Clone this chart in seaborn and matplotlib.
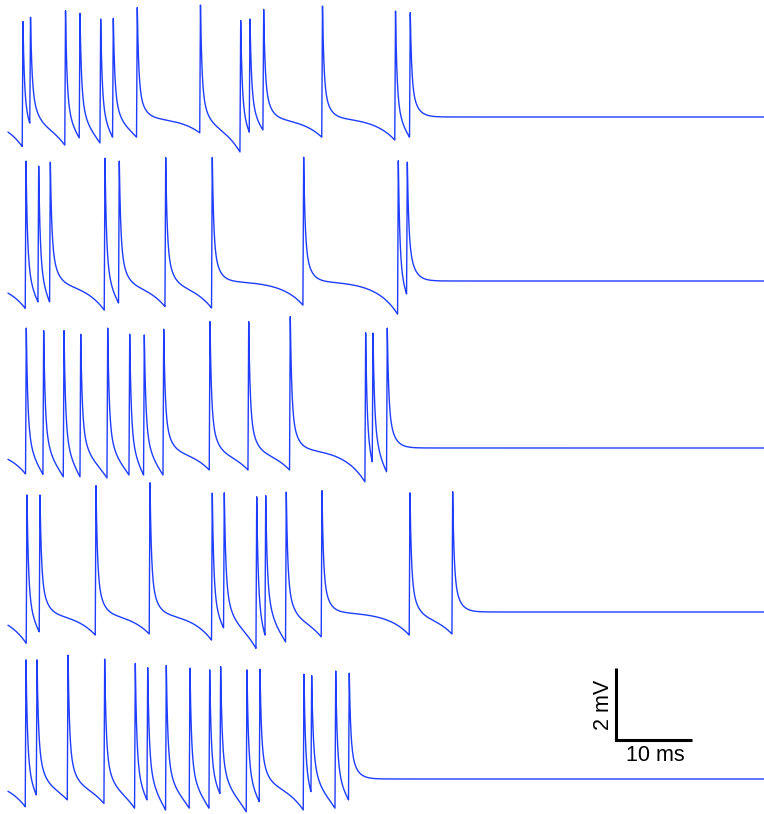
import numpy as np
import pandas as pd
import matplotlib
matplotlib.use("Agg")
import matplotlib.pyplot as plt
import seaborn as sns

# ---- data ----
# spike times (ms), spike peak levels (mV above resting level),
# trough depth just before each spike (mV below resting level)
trace1_times = [1.98, 2.98, 7.61, 9.52, 12.26, 13.93, 17.10, 25.46, 30.78, 32.01, 33.82, 41.60, 51.26, 53.21]
trace1_peaks = [2.65, 2.77, 2.95, 2.88, 2.72, 2.74, 3.04, 3.11, 2.68, 2.72, 2.99, 3.08, 2.94, 2.90]
trace1_troughs = [0.82, 0.17, 0.78, 0.58, 0.72, 0.56, 0.56, 0.44, 0.97, 0.42, 0.36, 0.56, 0.64, 0.56]

trace2_times = [2.38, 4.06, 5.60, 12.83, 14.72, 20.86, 27.02, 39.11, 51.63, 52.82]
trace2_peaks = [3.33, 3.19, 3.30, 3.41, 3.33, 3.43, 3.43, 3.44, 3.34, 3.30]
trace2_troughs = [0.76, 0.58, 0.58, 0.81, 0.61, 0.71, 0.75, 0.67, 0.92, 0.36]

trace3_times = [2.42, 4.72, 7.41, 9.62, 13.19, 16.10, 18.03, 20.60, 26.72, 31.84, 37.34, 47.31, 48.28, 50.17]
trace3_peaks = [3.33, 3.26, 3.26, 3.16, 3.33, 3.16, 3.14, 3.30, 3.51, 3.51, 3.65, 3.20, 3.19, 3.33]
trace3_troughs = [0.72, 0.73, 0.80, 0.80, 0.83, 0.75, 0.75, 0.75, 0.61, 0.61, 0.61, 0.94, 0.38, 0.66]

trace4_times = [2.51, 4.23, 11.64, 18.78, 27.02, 28.61, 32.90, 34.09, 36.81, 41.53, 53.17, 58.82]
trace4_peaks = [3.25, 3.25, 3.51, 3.59, 3.30, 3.31, 3.20, 3.23, 3.33, 3.37, 3.31, 3.34]
trace4_troughs = [0.87, 0.55, 0.64, 0.61, 0.78, 0.44, 1.01, 0.64, 0.83, 0.69, 0.64, 0.61]

trace5_times = [2.38, 3.84, 7.94, 12.79, 16.84, 18.48, 20.94, 24.07, 26.68, 28.13, 31.61, 33.33, 39.15, 40.17, 43.35, 45.14]
trace5_peaks = [3.31, 3.31, 3.44, 3.33, 3.21, 3.09, 3.15, 3.08, 3.03, 3.12, 3.03, 3.05, 2.91, 2.87, 3.00, 2.94]
trace5_troughs = [0.77, 0.44, 0.58, 0.68, 0.81, 0.58, 0.86, 0.81, 0.81, 0.40, 0.91, 0.63, 0.86, 0.35, 0.81, 0.58]

scale_labels = ["2 mV", "10 ms"]

# ---- spike waveform model ----
TAU_FAST, TAU_SLOW, FRAC_SLOW, TAU_PRE, RISE = 0.18, 0.75, 0.33, 2.8, 0.1
DURATION = 100.0


def contrib(t, ts, A, D):
    """Voltage contribution of a single spike at ts (peak A, pre-spike dip D)."""
    t = np.asarray(t, float)
    out = np.zeros_like(t)
    start = ts - RISE
    pre = t < start
    rise = (t >= start) & (t < ts)
    post = t >= ts
    out[pre] = -D * np.exp((t[pre] - start) / TAU_PRE)
    out[rise] = -D + (A + D) * (t[rise] - start) / RISE
    dt = t[post] - ts
    out[post] = A * ((1 - FRAC_SLOW) * np.exp(-dt / TAU_FAST) + FRAC_SLOW * np.exp(-dt / TAU_SLOW))
    return out


def make_trace(times, peaks, troughs):
    times = np.asarray(times, float)
    n = len(times)
    A = np.array(peaks, float)
    D = np.array(troughs, float)
    # solve for amplitudes so that peaks / troughs land on the read values
    for _ in range(60):
        A_new, D_new = A.copy(), D.copy()
        for s in range(n):
            others = [j for j in range(n) if j != s]
            r_peak = sum(contrib([times[s]], times[j], A[j], D[j])[0] for j in others)
            r_tr = sum(contrib([times[s] - RISE], times[j], A[j], D[j])[0] for j in others)
            A_new[s] = peaks[s] - r_peak
            D_new[s] = max(troughs[s] + r_tr, 0.0)
        A, D = A_new, D_new
    t = np.union1d(np.arange(0, DURATION + 1e-9, 0.02), np.concatenate([times, times - RISE]))
    v = np.zeros_like(t)
    for s in range(n):
        v += contrib(t, times[s], A[s], D[s])
    return t, v


traces = [
    (trace1_times, trace1_peaks, trace1_troughs),
    (trace2_times, trace2_peaks, trace2_troughs),
    (trace3_times, trace3_peaks, trace3_troughs),
    (trace4_times, trace4_peaks, trace4_troughs),
    (trace5_times, trace5_peaks, trace5_troughs),
]

PX_MS = 7.56   # pixels per ms
PX_MV = 36.0   # pixels per mV
baselines_px = [117, 281, 448, 612, 779]

frames = []
for k, (tt, pp, dd) in enumerate(traces):
    t, v = make_trace(tt, pp, dd)
    frames.append(pd.DataFrame({"t": t, "v": v - baselines_px[k] / PX_MV, "trace": k}))
df = pd.concat(frames, ignore_index=True)

sns.set_style("white")
plt.rcParams["font.family"] = ["Liberation Sans", "DejaVu Sans"]

W, H = 764, 814
fig = plt.figure(figsize=(W / 100, H / 100), dpi=100)
ax = fig.add_axes([0, 0, 1, 1])
COLOR = "#1f3dff"
sns.lineplot(data=df, x="t", y="v", hue="trace", palette=[COLOR] * 5,
             estimator=None, sort=False, linewidth=1.0, legend=False, ax=ax)

ax.set_xlim(-8 / PX_MS, (W - 8) / PX_MS)
ax.set_ylim(-H / PX_MV, 0)
ax.axis("off")

# scale bar
x0 = (616 - 8) / PX_MS
y0 = -740 / PX_MV
ax.plot([x0, x0, x0 + 10], [y0 + 2, y0, y0], color="black", linewidth=2.2,
        solid_joinstyle="miter", solid_capstyle="butt")
ax.text((603 - 8) / PX_MS, -705 / PX_MV, scale_labels[0], rotation=90,
        ha="center", va="center", fontsize=15.5, color="black")
ax.text((655 - 8) / PX_MS, -755 / PX_MV, scale_labels[1],
        ha="center", va="center", fontsize=15.5, color="black")

fig.savefig("out.png", dpi=100)
